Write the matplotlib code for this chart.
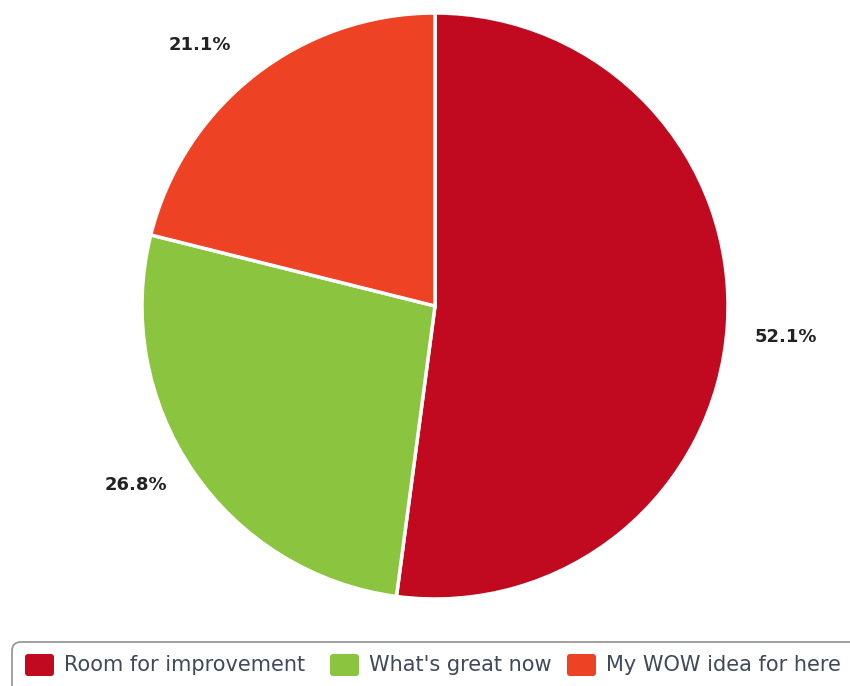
import matplotlib
matplotlib.use("Agg")
import matplotlib.pyplot as plt
from matplotlib.patches import FancyBboxPatch
import numpy as np

categories = ["Room for improvement", "What's great now", "My WOW idea for here"]
values = [52.1, 26.8, 21.1]
colors = ["#C10A1F", "#8BC53F", "#EE4225"]

W, H = 850, 686
fig = plt.figure(figsize=(W / 100, H / 100), dpi=100)
ax = fig.add_axes([0, 0, 1, 1])
ax.set_xlim(0, W)
ax.set_ylim(0, H)
ax.set_aspect("equal")
ax.axis("off")

cx, cy, r = 435, H - 306, 293
wedges, _ = ax.pie(values, colors=colors, startangle=90, counterclock=False,
                   center=(cx, cy), radius=r,
                   wedgeprops=dict(edgecolor="white", linewidth=2.5))
ax.set_xlim(0, W)
ax.set_ylim(0, H)

# percentage labels outside each wedge, nudged away from the rim
label_dist = 1.19
label_shift = [(3, -8), (-11, 17), (-21, -14)]
for w, v, (sx, sy) in zip(wedges, values, label_shift):
    ang = np.deg2rad((w.theta1 + w.theta2) / 2)
    x = cx + label_dist * r * np.cos(ang) + sx
    y = cy + label_dist * r * np.sin(ang) + sy
    ax.text(x, y, f"{v:.1f}%", ha="center", va="center", fontsize=13,
            fontweight="bold", color="#222222")

# legend box
box = FancyBboxPatch((12, -20), 860, (H - 642) + 20,
                     boxstyle="round,pad=0,rounding_size=9",
                     facecolor="white", edgecolor="#9a9a9a", linewidth=1.3)
ax.add_patch(box)

sq_x = [25, 330, 567]
ty = H - 665
for cat, col, x0 in zip(categories, colors, sq_x):
    sq = FancyBboxPatch((x0, ty - 11), 29, 22,
                        boxstyle="round,pad=0,rounding_size=3",
                        facecolor=col, edgecolor="none")
    ax.add_patch(sq)
    ax.text(x0 + 39, ty, cat, ha="left", va="center", fontsize=15,
            color="#3E4A5A")

fig.savefig("out.png", dpi=100)
